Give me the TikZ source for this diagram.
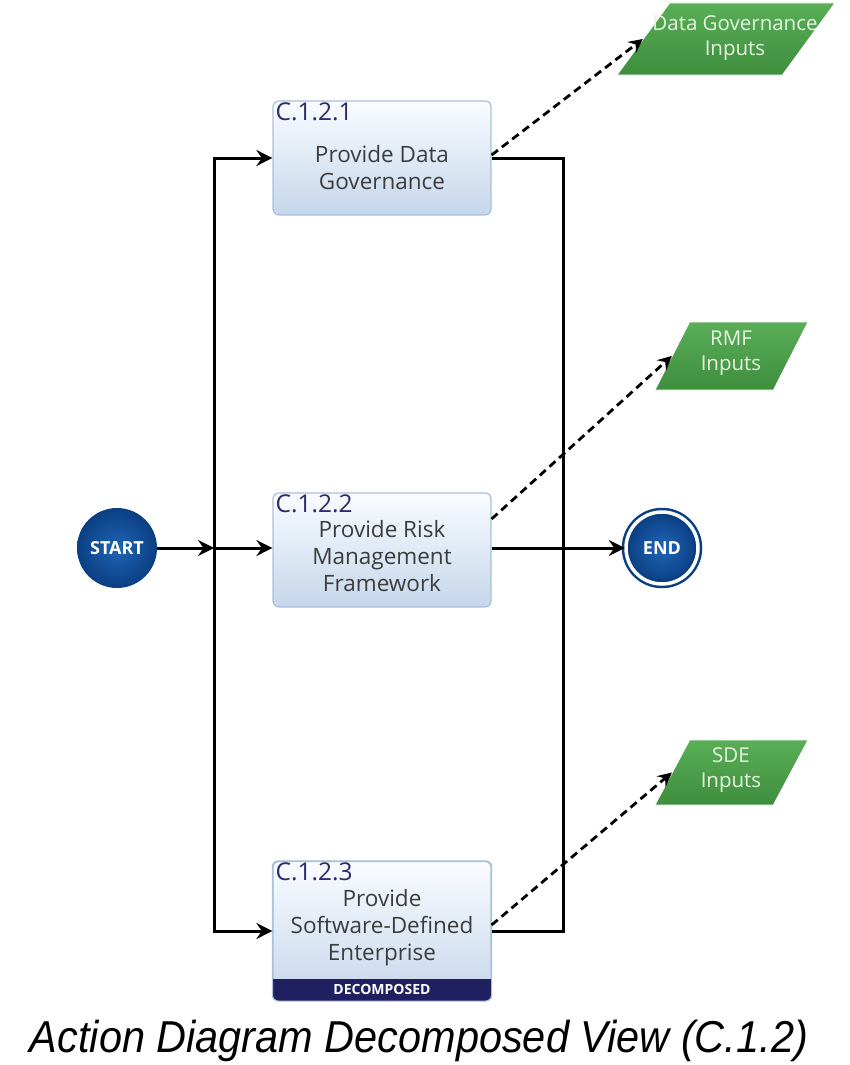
\documentclass[tikz,border=0pt]{standalone}
\usepackage{fontspec}
\setmainfont{Open Sans}
\newfontfamily\capfont{Liberation Sans}
\usetikzlibrary{arrows.meta,shapes.geometric}

\definecolor{navy}{HTML}{2B2B6E}
\definecolor{boxtop}{HTML}{FAFCFF}
\definecolor{boxbot}{HTML}{C5D6EB}
\definecolor{boxedge}{HTML}{A9C0DA}
\definecolor{titlegray}{HTML}{3C3C3C}
\definecolor{gtop}{HTML}{5AAE57}
\definecolor{gbot}{HTML}{3E8E3E}
\definecolor{gtext}{HTML}{E6F4DF}
\definecolor{cinner}{HTML}{1F64B6}
\definecolor{couter}{HTML}{0B3F82}
\definecolor{band}{HTML}{202060}

\tikzset{
  act/.style={draw=boxedge, line width=1.2pt, rounded corners=6pt,
    top color=boxtop, bottom color=boxbot,
    minimum width=218pt, minimum height=114pt, inner sep=0pt},
  actid/.style={anchor=north west, text=navy, inner sep=0pt,
    font=\fontsize{24.5}{26}\selectfont},
  acttext/.style={text=titlegray, align=center, inner sep=0pt,
    font=\fontsize{22.5}{27}\selectfont},
  io/.style={trapezium, trapezium stretches=true, top color=gtop,
    bottom color=gbot, draw=white, line width=0.8pt, inner sep=2pt},
  iotext/.style={text=gtext, align=center, inner sep=0pt,
    font=\fontsize{20.5}{25}\selectfont},
  flow/.style={line width=3pt, -{Stealth[length=16pt,width=16pt,inset=5.5pt]}},
  wire/.style={line width=3pt},
  feed/.style={line width=2.8pt, dash pattern=on 8pt off 5pt,
    -{Stealth[length=14pt,width=14pt,inset=5pt]}},
  term/.style={circle, inner sep=0pt, text=white,
    inner color=cinner, outer color=couter,
    font=\bfseries\fontsize{18}{18}\selectfont},
}

\begin{document}
\begin{tikzpicture}[x=1pt, y=-1pt]
\useasboundingbox (0,0) rectangle (849,1065);

% activity boxes
\node[act] (b1) at (382,158) {};
\node[act] (b2) at (382,550) {};
\node[act, minimum height=139pt] (b3) at (382,931) {};

% decomposed band along the bottom of the third box
\begin{scope}
  \clip[rounded corners=6pt] (b3.south west) rectangle (b3.north east);
  \fill[band] (b3.south west) rectangle ([yshift=22pt]b3.south east);
\end{scope}
\draw[boxedge, line width=1.2pt, rounded corners=6pt]
  (b3.south west) rectangle (b3.north east);
\node[text=white, inner sep=0pt, font=\bfseries\fontsize{14}{14}\selectfont]
  (dec) at (382,989.5) {DECOMPOSED};

% identifiers and titles
\node[actid] (id1) at ([xshift=3pt,yshift=-2pt]b1.north west) {C.1.2.1};
\node[actid] (id2) at ([xshift=3pt,yshift=-2pt]b2.north west) {C.1.2.2};
\node[actid] (id3) at ([xshift=3pt,yshift=-2pt]b3.north west) {C.1.2.3};
\node[acttext] (t1) at (382,168) {Provide Data\\Governance};
\node[acttext] (t2) at (382,556) {Provide Risk\\Management\\Framework};
\node[acttext] (t3) at (382,928) {Provide\\Software-Defined\\Enterprise};

% start and end terminals
\node[term, minimum size=80pt] (start) at (117,548) {START};
\node[term, minimum size=72pt, draw=couter, line width=2.5pt,
      double=white, double distance=3.5pt] (end) at (662,548) {END};

% inputs
\node[io, minimum width=218pt, minimum height=72pt,
      trapezium left angle=65, trapezium right angle=115] (dg) at (726,39) {};
\node[iotext] (dgt) at (735,38) {Data Governance\\Inputs};
\node[io, minimum width=153pt, minimum height=68pt,
      trapezium left angle=67.6, trapezium right angle=112.4] (rmf) at (731.5,356) {};
\node[iotext] (rmft) at (731,353) {RMF\\Inputs};
\node[io, minimum width=153pt, minimum height=65pt,
      trapezium left angle=67.5, trapezium right angle=112.5] (sde) at (731.5,772.5) {};
\node[iotext] (sdet) at (731,770) {SDE\\Inputs};

% control flow
\coordinate (fork) at (214,548);
\coordinate (join) at (563,548);
\draw[flow] (start) -- (fork);
\draw[flow] (fork) |- (b1.west);
\draw[flow] (fork) -- (b2.west |- fork);
\draw[flow] (fork) |- (b3.west);
\draw[wire] (b1.east) -| (join) |- (b3.east);
\draw[flow] (b2.east |- join) -- (end);

% input feeds
\draw[feed] ([yshift=3pt]b1.east) -- (dg.west);
\draw[feed] ([yshift=31pt]b2.east) -- (rmf.west);
\draw[feed] ([yshift=6pt]b3.east) -- (sde.west);

% caption
\node[inner sep=0pt] (cap) at (419,1041)
  {\resizebox{778pt}{\height}{\capfont\itshape\fontsize{44.7}{46}\selectfont Action Diagram Decomposed View (C.1.2)}};
\end{tikzpicture}
\end{document}
